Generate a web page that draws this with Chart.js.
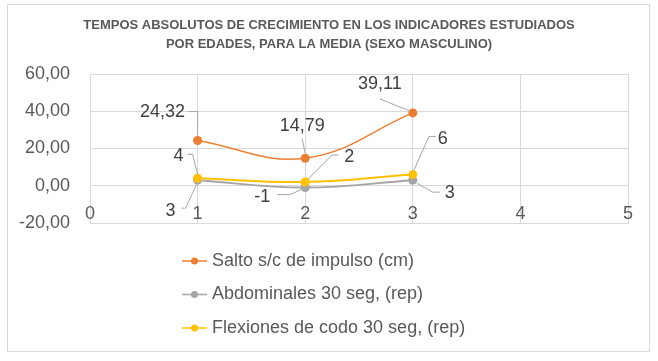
<!DOCTYPE html>
<html lang="es">

<head>
    <meta charset="UTF-8">
    <title>Tempos absolutos</title>
    <style>
        body {
            margin: 0;
            background: #fff;
        }
    </style>
</head>

<body>
    <canvas id="chart" width="658" height="361"></canvas>

    <script src="https://cdn.jsdelivr.net/npm/chart.js@4.4.3/dist/chart.umd.min.js"></script>

    <script>
        // datos
        const edades = [1, 2, 3]
        const salto = [24.32, 14.79, 39.11]
        const abdominales = [3, -1, 3]
        const flexiones = [4, 2, 6]
        const xTicks = [0, 1, 2, 3, 4, 5]
        const yTicks = [-20, 0, 20, 40, 60]
        const series = ['Salto s/c de impulso (cm)', 'Abdominales 30 seg, (rep)', 'Flexiones de codo 30 seg, (rep)']
        const titulo = ['TEMPOS ABSOLUTOS DE CRECIMIENTO EN LOS INDICADORES ESTUDIADOS', 'POR EDADES, PARA LA MEDIA (SEXO MASCULINO)']
        const colores = ['#ED7D31', '#A5A5A5', '#FFC000']

        const FONT = "'Liberation Sans', Arial, sans-serif"
        const GRAY = '#595959'

        // posicion de las etiquetas respecto al punto (texto + linea guia)
        const etiquetas = [
            [
                { dx: -35, dy: -28, lead: [[0, -5], [0, -29], [-9, -29]] },
                { dx: -3, dy: -32, lead: [[-3, -19], [0, -5]] },
                { dx: -33, dy: -29, lead: [[-33, -14], [-3, -2]] },
            ],
            [
                { dx: -27, dy: 31, lead: [[-16, 28], [-12, 28], [-1, 4]] },
                { dx: -43, dy: 9, lead: [[-28, 7], [-15, 7], [-4, 2]] },
                { dx: 37, dy: 13, lead: [[27, 12], [20, 12], [4, 3]] },
            ],
            [
                { dx: -19, dy: -22, lead: [[-10, -24], [-5, -24], [0, -4]] },
                { dx: 44, dy: -25, lead: [[33, -27], [27, -27], [3, -3]] },
                { dx: 30, dy: -36, lead: [[23, -38], [16, -38], [1, -4]] },
            ],
        ]

        const coma = v => String(v).replace('.', ',')

        const marco = {
            id: 'marco',
            beforeDraw(chart) {
                const ctx = chart.ctx
                ctx.save()
                ctx.fillStyle = '#fff'
                ctx.fillRect(0, 0, chart.width, chart.height)
                ctx.strokeStyle = '#d9d9d9'
                ctx.lineWidth = 1
                ctx.strokeRect(7.5, 4.5, 642, 347)

                // titulo centrado en el marco
                ctx.fillStyle = GRAY
                ctx.font = 'bold 13px ' + FONT
                ctx.textAlign = 'center'
                ctx.textBaseline = 'middle'
                titulo.forEach((t, i) => ctx.fillText(t, 329, 25 + i * 19))
                ctx.restore()
            }
        }

        const extras = {
            id: 'extras',
            afterDatasetsDraw(chart) {
                const ctx = chart.ctx
                const xs = chart.scales.x
                const ys = chart.scales.y
                ctx.save()

                // etiquetas del eje x, sobre la linea del cero
                ctx.font = '18px ' + FONT
                ctx.fillStyle = GRAY
                ctx.textAlign = 'center'
                ctx.textBaseline = 'middle'
                xTicks.forEach(t => {
                    ctx.fillText(String(t), xs.getPixelForValue(t), ys.getPixelForValue(0) + 28)
                })

                // etiquetas de datos
                chart.data.datasets.forEach((ds, i) => {
                    const meta = chart.getDatasetMeta(i)
                    meta.data.forEach((pt, j) => {
                        const e = etiquetas[i][j]
                        ctx.strokeStyle = '#a6a6a6'
                        ctx.lineWidth = 1
                        ctx.beginPath()
                        e.lead.forEach((p, k) => {
                            const px = pt.x + p[0], py = pt.y + p[1]
                            k ? ctx.lineTo(px, py) : ctx.moveTo(px, py)
                        })
                        ctx.stroke()
                        ctx.fillStyle = '#404040'
                        ctx.fillText(coma(ds.data[j].y), pt.x + e.dx, pt.y + e.dy)
                    })
                })

                // leyenda en columna
                chart.data.datasets.forEach((ds, i) => {
                    const y = 261 + i * 33.5
                    ctx.strokeStyle = ds.borderColor
                    ctx.lineWidth = 1.5
                    ctx.beginPath()
                    ctx.moveTo(182, y)
                    ctx.lineTo(207, y)
                    ctx.stroke()
                    ctx.fillStyle = ds.borderColor
                    ctx.beginPath()
                    ctx.arc(194.5, y, 3.5, 0, Math.PI * 2)
                    ctx.fill()
                    ctx.fillStyle = GRAY
                    ctx.textAlign = 'left'
                    ctx.fillText(ds.label, 212, y)
                })
                ctx.restore()
            }
        }

        const toPts = vals => edades.map((x, i) => ({ x: x, y: vals[i] }))

        const datasets = [salto, abdominales, flexiones].map((vals, i) => ({
            label: series[i],
            data: toPts(vals),
            showLine: true,
            borderColor: colores[i],
            backgroundColor: colores[i],
            borderWidth: i === 0 ? 1.5 : 2,
            pointRadius: 4.5,
            pointBorderWidth: 0,
            tension: 0.4,
            order: [1, 2, 0][i],
        }))

        new Chart(document.getElementById('chart'), {
            type: 'scatter',
            data: { datasets: datasets },
            options: {
                responsive: false,
                animation: false,
                layout: { padding: { left: 8, right: 30, top: 74, bottom: 138 } },
                plugins: {
                    legend: { display: false },
                    tooltip: { enabled: false },
                    title: { display: false },
                },
                scales: {
                    x: {
                        min: 0,
                        max: 5,
                        afterBuildTicks: s => { s.ticks = xTicks.map(v => ({ value: v })) },
                        ticks: { display: false },
                        grid: { color: '#d9d9d9', drawTicks: false },
                        border: { color: '#d9d9d9' },
                    },
                    y: {
                        min: -20,
                        max: 60,
                        afterBuildTicks: s => { s.ticks = yTicks.map(v => ({ value: v })) },
                        afterFit: s => { s.width = 82 },
                        ticks: {
                            padding: 20,
                            color: GRAY,
                            font: { family: FONT, size: 18 },
                            callback: v => v.toFixed(2).replace('.', ','),
                        },
                        grid: { color: '#d9d9d9', drawTicks: false },
                        border: { color: '#d9d9d9' },
                    },
                },
            },
            plugins: [marco, extras],
        })
    </script>

</body>

</html>
